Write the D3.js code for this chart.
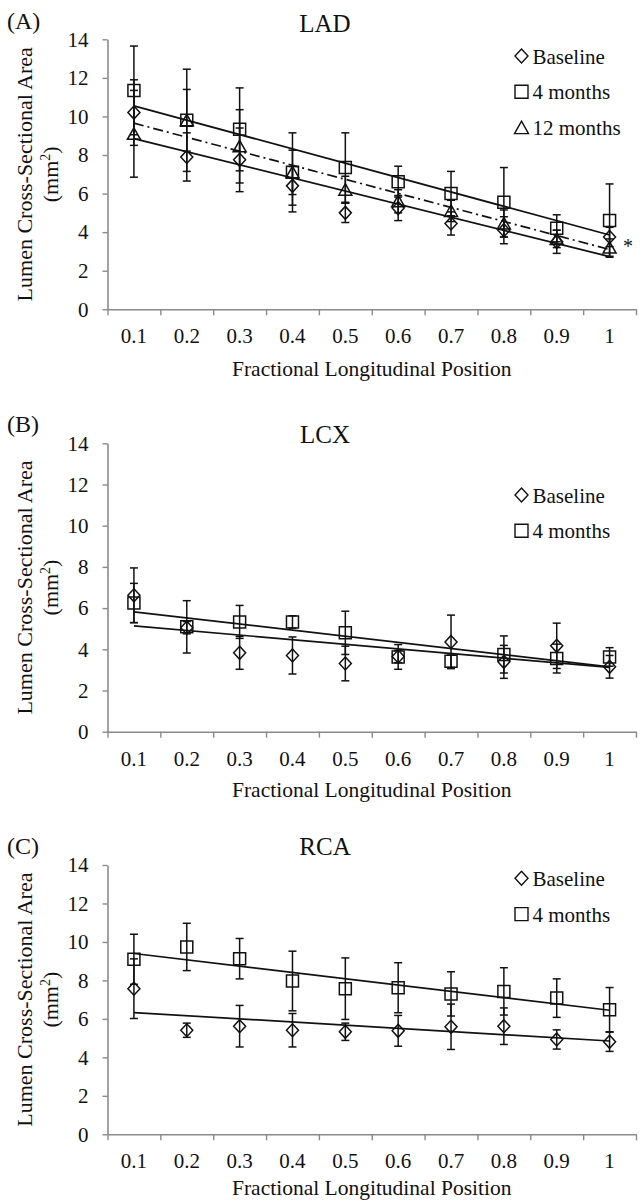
<!DOCTYPE html>
<html>
<head>
<meta charset="utf-8">
<script src="https://cdn.jsdelivr.net/npm/d3@7"></script>
<style>
  body { margin: 0; background: #fff; }
  svg text { font-family: 'Liberation Serif', 'Times New Roman', serif; fill: #111; }
</style>
</head>
<body>
<div id="chart"></div>
<script>
// Fractional longitudinal positions (x categories) and y ticks
const positions = ['0.1', '0.2', '0.3', '0.4', '0.5', '0.6', '0.7', '0.8', '0.9', '1'];
const yTicks = [0, 2, 4, 6, 8, 10, 12, 14];

// (A) LAD
const ladBaseline = [10.2, 7.9, 7.75, 6.4, 5.0, 5.25, 4.45, 4.1, 3.5, 3.75];
const ladBaselineErr = [1.7, 1.25, 1.65, 1.0, 0.5, 0.65, 0.6, 0.7, 0.6, 0.5];
const ladFourMonths = [11.35, 9.8, 9.33, 7.1, 7.35, 6.62, 6.0, 5.55, 4.2, 4.6];
const ladFourMonthsErr = [2.3, 2.65, 2.15, 2.05, 1.8, 0.8, 1.15, 1.8, 0.7, 1.9];
const ladTwelveMonths = [9.1, 9.8, 8.45, 7.1, 6.2, 5.6, 5.1, 4.45, 3.65, 3.2];
const ladTwelveMonthsErr = [2.25, 1.6, 1.9, 1.15, 0.7, 0.6, 0.55, 0.7, 0.45, 0.45];
// linear trend lines, value at 0.1 and at 1
const ladBaselineTrend = [8.85, 2.73];
const ladFourMonthsTrend = [10.55, 3.85];
const ladTwelveMonthsTrend = [9.65, 3.1];

// (B) LCX
const lcxBaseline = [6.62, 5.05, 3.83, 3.7, 3.31, 3.65, 4.36, 3.39, 4.17, 3.15];
const lcxBaselineErr = [1.33, 0.3, 0.8, 0.9, 0.84, 0.3, 1.3, 0.8, 1.1, 0.55];
const lcxFourMonths = [6.25, 5.09, 5.33, 5.33, 4.8, 3.63, 3.42, 3.75, 3.55, 3.63];
const lcxFourMonthsErr = [0.95, 1.27, 0.8, 0.3, 1.05, 0.6, 0.3, 0.9, 0.7, 0.45];
const lcxBaselineTrend = [5.14, 3.12];
const lcxFourMonthsTrend = [5.82, 3.15];

// (C) RCA
const rcaBaseline = [7.57, 5.41, 5.62, 5.41, 5.33, 5.38, 5.59, 5.62, 4.93, 4.81];
const rcaBaselineErr = [1.55, 0.37, 1.08, 0.87, 0.45, 0.8, 1.18, 0.95, 0.5, 0.5];
const rcaFourMonths = [9.1, 9.74, 9.13, 7.97, 7.57, 7.62, 7.3, 7.43, 7.08, 6.48];
const rcaFourMonthsErr = [1.3, 1.23, 1.05, 1.55, 1.6, 1.3, 1.15, 1.23, 1.0, 1.15];
const rcaBaselineTrend = [6.33, 4.85];
const rcaFourMonthsTrend = [9.4, 6.45];

const width = 640, height = 1203;
const plotLeft = 107.5, plotRight = 636;
const axisColor = '#8a8a8a';

const svg = d3.select('#chart').append('svg')
  .attr('width', width)
  .attr('height', height);

const x = d3.scaleBand().domain(positions).range([plotLeft, plotRight]).padding(0);
const xEdge = d3.scaleLinear().domain([0, positions.length]).range([plotLeft, plotRight]);
const xc = p => x(p) + x.bandwidth() / 2;

// outline marker shapes centred on their bounding box
function markerPath(shape, s) {
  const h = s / 2;
  if (shape === 'diamond') return `M0,${-h - 0.5}L${h},0L0,${h + 0.5}L${-h},0Z`;
  if (shape === 'square') return `M${-h},${-h}H${h}V${h}H${-h}Z`;
  return `M0,${-h}L${h + 0.5},${h - 0.5}L${-h - 0.5},${h - 0.5}Z`;
}

const panels = [
  {
    label: '(A)', title: 'LAD', top: 39.3, bottom: 309.3, labelY: 29.3, titleY: 31.7, legendY: 56, xTitleY: 376,
    series: [
      { name: 'Baseline', shape: 'diamond', values: ladBaseline, err: ladBaselineErr, trend: ladBaselineTrend, dash: null },
      { name: '4 months', shape: 'square', values: ladFourMonths, err: ladFourMonthsErr, trend: ladFourMonthsTrend, dash: null },
      { name: '12 months', shape: 'triangle', values: ladTwelveMonths, err: ladTwelveMonthsErr, trend: ladTwelveMonthsTrend, dash: '10,4,2,4' }
    ],
    note: { text: '*', value: 3.5 }
  },
  {
    label: '(B)', title: 'LCX', top: 443.3, bottom: 731.7, labelY: 432, titleY: 443, legendY: 495, xTitleY: 797,
    series: [
      { name: 'Baseline', shape: 'diamond', values: lcxBaseline, err: lcxBaselineErr, trend: lcxBaselineTrend, dash: null },
      { name: '4 months', shape: 'square', values: lcxFourMonths, err: lcxFourMonthsErr, trend: lcxFourMonthsTrend, dash: null }
    ]
  },
  {
    label: '(C)', title: 'RCA', top: 865, bottom: 1134.3, labelY: 853.5, titleY: 855, legendY: 878.3, xTitleY: 1195,
    series: [
      { name: 'Baseline', shape: 'diamond', values: rcaBaseline, err: rcaBaselineErr, trend: rcaBaselineTrend, dash: null },
      { name: '4 months', shape: 'square', values: rcaFourMonths, err: rcaFourMonthsErr, trend: rcaFourMonthsTrend, dash: null }
    ]
  }
];

panels.forEach(p => {
  const y = d3.scaleLinear().domain([0, 14]).range([p.bottom, p.top]);
  const g = svg.append('g');
  const midY = (p.top + p.bottom) / 2;

  // panel letter and title
  g.append('text').attr('x', 7).attr('y', p.labelY).style('font-size', '24px').text(p.label);
  g.append('text').attr('x', 325).attr('y', p.titleY).attr('text-anchor', 'middle')
    .style('font-size', '25px').text(p.title);

  // y axis
  const yAxis = g.append('g')
    .attr('transform', `translate(${plotLeft},0)`)
    .call(d3.axisLeft(y).tickValues(yTicks).tickSize(5).tickSizeOuter(0).tickPadding(14));
  yAxis.select('.domain').attr('stroke', axisColor).attr('stroke-width', 1.6);
  yAxis.selectAll('.tick line').attr('stroke', axisColor).attr('stroke-width', 1.4);
  yAxis.selectAll('.tick text').style('font-size', '21px').attr('fill', '#111')
    .style('font-family', "'Liberation Serif', serif");

  // x axis: tick marks on the category edges, labels at the centres
  const xTicks = g.append('g')
    .attr('transform', `translate(0,${p.bottom})`)
    .call(d3.axisBottom(xEdge).ticks(positions.length).tickSize(6).tickSizeOuter(0).tickFormat(''));
  xTicks.select('.domain').attr('stroke', axisColor).attr('stroke-width', 1.6);
  xTicks.selectAll('.tick line').attr('stroke', axisColor).attr('stroke-width', 1.4);

  const xLabels = g.append('g')
    .attr('transform', `translate(0,${p.bottom})`)
    .call(d3.axisBottom(x).tickSize(0));
  xLabels.select('.domain').remove();
  xLabels.selectAll('.tick text').attr('y', 34).attr('dy', null)
    .style('font-size', '21px').attr('fill', '#111')
    .style('font-family', "'Liberation Serif', serif");

  // axis titles
  g.append('text')
    .attr('x', (plotLeft + plotRight) / 2).attr('y', p.xTitleY)
    .attr('text-anchor', 'middle').style('font-size', '21.5px')
    .text('Fractional Longitudinal Position');

  g.append('text')
    .attr('transform', `translate(32,${midY}) rotate(-90)`)
    .attr('text-anchor', 'middle').style('font-size', '22px')
    .text('Lumen Cross-Sectional Area');
  const unit = g.append('text')
    .attr('transform', `translate(58,${midY}) rotate(-90)`)
    .attr('text-anchor', 'middle').style('font-size', '22px');
  unit.append('tspan').text('(mm');
  unit.append('tspan').attr('dy', -8).style('font-size', '14px').text('2');
  unit.append('tspan').attr('dy', 8).text(')');

  // error bars
  p.series.forEach(s => {
    const pts = positions.map((pos, i) => ({ pos, v: s.values[i], e: s.err[i] }));
    const eb = g.append('g').attr('stroke', '#111').attr('stroke-width', 1.5).attr('fill', 'none');
    eb.selectAll('line.bar').data(pts).join('line')
      .attr('x1', d => xc(d.pos)).attr('x2', d => xc(d.pos))
      .attr('y1', d => y(d.v + d.e)).attr('y2', d => y(d.v - d.e));
    eb.selectAll('line.capTop').data(pts).join('line').attr('class', 'capTop')
      .attr('x1', d => xc(d.pos) - 4).attr('x2', d => xc(d.pos) + 4)
      .attr('y1', d => y(d.v + d.e)).attr('y2', d => y(d.v + d.e));
    eb.selectAll('line.capBot').data(pts).join('line').attr('class', 'capBot')
      .attr('x1', d => xc(d.pos) - 4).attr('x2', d => xc(d.pos) + 4)
      .attr('y1', d => y(d.v - d.e)).attr('y2', d => y(d.v - d.e));
  });

  // trend lines
  const line = d3.line().x(d => xc(d.pos)).y(d => y(d.v));
  p.series.forEach(s => {
    const ends = [
      { pos: positions[0], v: s.trend[0] },
      { pos: positions[positions.length - 1], v: s.trend[1] }
    ];
    g.append('path')
      .attr('d', line(ends))
      .attr('fill', 'none')
      .attr('stroke', '#111')
      .attr('stroke-width', 1.7)
      .attr('stroke-dasharray', s.dash);
  });

  // markers
  p.series.forEach(s => {
    g.append('g').selectAll('path')
      .data(positions.map((pos, i) => ({ pos, v: s.values[i] })))
      .join('path')
      .attr('transform', d => `translate(${xc(d.pos)},${y(d.v)})`)
      .attr('d', markerPath(s.shape, 12))
      .attr('fill', 'none')
      .attr('stroke', '#111')
      .attr('stroke-width', 1.5);
  });

  // legend
  const legend = g.append('g');
  p.series.forEach((s, i) => {
    const cy = p.legendY + i * 35.8;
    legend.append('path')
      .attr('transform', `translate(521.5,${cy})`)
      .attr('d', markerPath(s.shape, 13))
      .attr('fill', 'none').attr('stroke', '#111').attr('stroke-width', 1.4);
    legend.append('text')
      .attr('x', 532.5).attr('y', cy + 7.5)
      .style('font-size', '21px')
      .text(s.name);
  });

  if (p.note) {
    g.append('text')
      .attr('x', xc(positions[positions.length - 1]) + 18.5)
      .attr('y', y(p.note.value) + 11)
      .attr('text-anchor', 'middle')
      .style('font-size', '20px')
      .text(p.note.text);
  }
});
</script>
</body>
</html>
